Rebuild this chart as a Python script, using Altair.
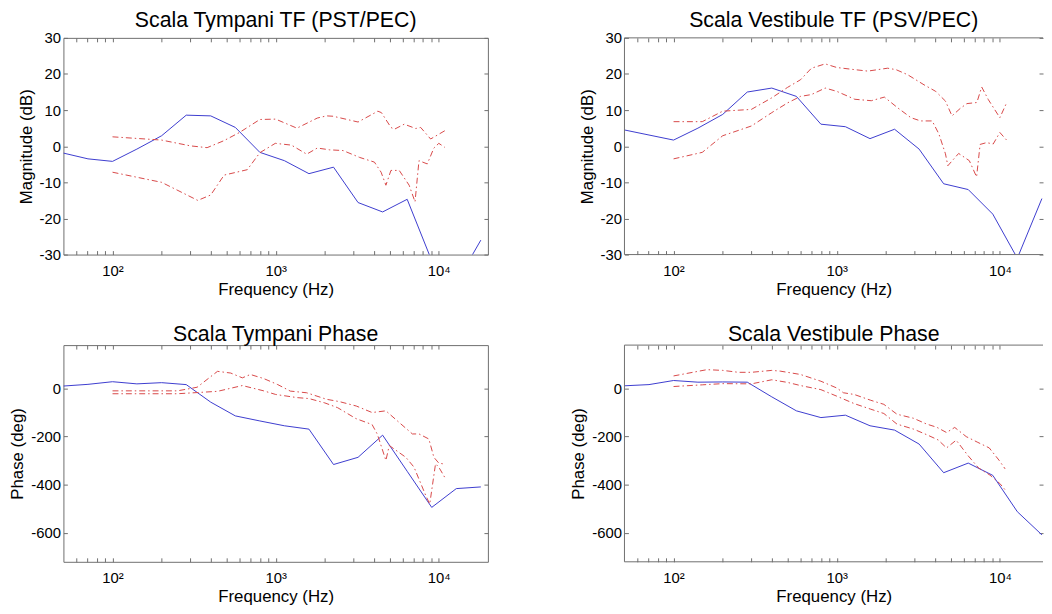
import altair as alt
import pandas as pd

FONT = "Liberation Sans"
BLUE = "#3c3cce"
RED = "#d84848"
FRAME = "#6e6e6e"

# Frequencies (Hz) of the solid blue curves (half-octave spacing)
F_BLUE = [50, 70.7, 100, 141, 200, 283, 400, 566, 800, 1131, 1600, 2263, 3200, 4525, 6400, 9051, 12800, 18102]

# ---- Scala Tympani magnitude (dB)
ST_MAG_BLUE = [-1.9, -3.5, -4.2, -0.8, 2.9, 8.6, 8.4, 5.2, -1.7, -4.0, -7.6, -5.8, -15.6, -18.2, -14.7, -31.7, -37.8, -26.0]
ST_MAG_A_F = [100, 200, 300, 380, 480, 600, 800, 1000, 1350, 1800, 2050, 2250, 3200, 4230, 4450, 5090, 5340, 6140, 7220, 7740, 8910, 10900]
ST_MAG_A_V = [2.6, 1.7, 0.1, -0.4, 1.5, 3.8, 7.4, 7.5, 5.0, 7.8, 8.4, 8.3, 6.7, 9.7, 9.3, 5.2, 4.7, 6.1, 4.9, 5.2, 2.0, 4.3]
ST_MAG_B_F = [100, 200, 333, 400, 483, 670, 800, 995, 1250, 1550, 1800, 2140, 2590, 3270, 4030, 4430, 4740, 5090, 5720, 6580, 7150, 7560, 8500, 9330, 10000, 10870]
ST_MAG_B_V = [-7.2, -10.0, -15.0, -13.5, -8.0, -6.5, -1.8, 0.8, 0.3, -2.2, -0.5, -1.0, -1.2, -3.1, -4.4, -7.2, -10.8, -6.7, -6.7, -10.8, -15.4, -4.0, -4.9, -0.5, 0.8, -0.3]

# ---- Scala Vestibule magnitude (dB)
SV_MAG_BLUE = [4.5, 3.1, 1.7, 5.0, 8.8, 15.0, 16.1, 13.8, 6.1, 5.4, 2.1, 4.7, -0.8, -10.4, -12.0, -18.8, -31.0, -14.5]
SV_MAG_A_F = [100, 150, 200, 300, 400, 500, 600, 700, 850, 1000, 1290, 1550, 2050, 2310, 2720, 3430, 4040, 4640, 5090, 5730, 6280, 7230, 7740, 8500, 10000, 11000]
SV_MAG_A_V = [6.8, 6.8, 9.7, 10.2, 13.4, 16.3, 18.4, 21.6, 22.8, 21.8, 21.2, 20.8, 21.6, 21.2, 19.8, 17.0, 15.2, 12.5, 8.4, 10.5, 11.8, 12.1, 16.4, 12.9, 7.9, 12.0]
SV_MAG_B_F = [100, 150, 200, 300, 400, 500, 600, 700, 850, 1000, 1290, 1630, 1960, 2370, 2850, 3270, 3850, 4230, 4640, 4800, 5590, 6500, 7200, 7570, 8300, 9100, 10000, 11000]
SV_MAG_B_V = [-3.5, -1.7, 2.9, 5.6, 9.3, 12.0, 13.8, 14.3, 16.1, 15.2, 13.0, 12.6, 13.6, 10.6, 7.9, 7.0, 7.0, 3.4, -2.1, -5.4, -2.0, -4.0, -8.5, 0.5, 1.0, 0.6, 3.8, 1.7]

# ---- Scala Tympani phase (deg)
ST_PH_BLUE = [10, 17, 28, 19, 24, 16, -57, -114, -135, -155, -169, -316, -286, -194, -344, -494, -416, -409]
ST_PH_A_F = [100, 250, 330, 440, 530, 625, 700, 845, 1030, 1230, 1550, 2050, 2470, 3120, 3900, 4740, 5710, 6890, 7570, 8690, 9330, 10000, 11000]
ST_PH_A_V = [-10, -10, 5, 71, 64, 44, 58, 41, 16, -11, -18, -45, -55, -73, -100, -93, -141, -189, -189, -210, -286, -310, -315]
ST_PH_B_F = [100, 250, 440, 625, 845, 1000, 1350, 1600, 2000, 2400, 3100, 3900, 4200, 4740, 4970, 6280, 7050, 8300, 8800, 9550, 10000, 11000]
ST_PH_B_V = [-22, -22, -12, 12, -10, -25, -38, -42, -60, -80, -125, -150, -190, -299, -237, -286, -327, -443, -480, -313, -327, -375]

# ---- Scala Vestibule phase (deg)
SV_PH_BLUE = [11, 16, 33, 26, 27, 26, -35, -93, -121, -111, -155, -173, -231, -350, -310, -361, -512, -608]
SV_PH_A_F = [100, 160, 200, 250, 300, 400, 450, 600, 800, 1000, 1100, 1280, 1615, 1945, 2340, 2960, 3560, 4100, 4710, 5290, 6220, 7330, 8610, 9910, 10770]
SV_PH_A_V = [52, 78, 75, 67, 67, 75, 72, 58, 30, 2, -18, -25, -49, -66, -107, -124, -148, -161, -183, -162, -200, -224, -247, -299, -334]
SV_PH_B_F = [100, 150, 200, 300, 400, 500, 600, 800, 1000, 1280, 1615, 1945, 2340, 2960, 3560, 4190, 4710, 5400, 6400, 7400, 8700, 10000, 10900]
SV_PH_B_V = [8, 15, 20, 19, 36, 25, 12, -5, -32, -63, -86, -104, -148, -169, -192, -214, -247, -215, -280, -330, -360, -395, -425]

# Left column shows 50 Hz - 20 kHz; the right column is cut by the window edge,
# so it shows the same scale up to where the picture ends.
X_DOMAIN_L = [50, 20000]
X_DOMAIN_R = [50, 18390]
X_TICKS = [60, 70, 80, 90, 100, 200, 300, 400, 500, 600, 700, 800, 900,
           1000, 2000, 3000, 4000, 5000, 6000, 7000, 8000, 9000, 10000]
MAG_DOMAIN = [-30, 30]
MAG_TICKS = [-30, -20, -10, 0, 10, 20, 30]
PH_DOMAIN = [-720, 180]
PH_TICKS = [-600, -400, -200, 0]

X_LABELS = ("datum.value == 100 ? '10\u00b2' : datum.value == 1000 ? '10\u00b3' : "
            "datum.value == 10000 ? '10\u2074' : ''")

DASHDOT = [6, 3, 1.5, 3]
TICK = 4


def panel(title, ytitle, xdomain, width, ydomain, yticks,
          blue_v, a_f, a_v, b_f, b_v, open_right=False):
    xs = alt.Scale(type="log", domain=xdomain, nice=False)
    ys = alt.Scale(domain=ydomain, nice=False, zero=False)
    x_bottom = alt.Axis(orient="bottom", values=X_TICKS, labelExpr=X_LABELS,
                        offset=-TICK, tickSize=TICK, domain=False, grid=False,
                        labelPadding=9, labelFlush=False, labelOverlap=False,
                        title="Frequency (Hz)", titlePadding=3)
    x_top = alt.Axis(orient="top", values=X_TICKS, labels=False, offset=-TICK,
                     tickSize=TICK, domain=False, grid=False, title=None)
    y_left = alt.Axis(orient="left", values=yticks, labelExpr="'' + datum.value",
                      offset=-TICK, tickSize=TICK, domain=False, grid=False,
                      labelPadding=3, title=ytitle, titlePadding=4)
    y_right = alt.Axis(orient="right", values=yticks, labels=False, offset=-TICK,
                       tickSize=TICK, domain=False, grid=False, title=None)

    blue = alt.Chart(pd.DataFrame({"f": F_BLUE, "v": blue_v})).mark_line(
        color=BLUE, strokeWidth=1, clip=True).encode(
        x=alt.X("f:Q", scale=xs, axis=x_bottom),
        y=alt.Y("v:Q", scale=ys, axis=y_left))
    red_a = alt.Chart(pd.DataFrame({"f": a_f, "v": a_v})).mark_line(
        color=RED, strokeWidth=1, strokeDash=DASHDOT, clip=True).encode(
        x=alt.X("f:Q", scale=xs, axis=x_top),
        y=alt.Y("v:Q", scale=ys, axis=y_right))
    red_b = alt.Chart(pd.DataFrame({"f": b_f, "v": b_v})).mark_line(
        color=RED, strokeWidth=1, strokeDash=DASHDOT, clip=True).encode(
        x=alt.X("f:Q", scale=xs, axis=None),
        y=alt.Y("v:Q", scale=ys, axis=None))
    layers = [blue, red_a, red_b]
    props = dict(width=width, height=219,
                 title=alt.TitleParams(title, offset=-1, anchor="middle"))
    if open_right:
        # frame drawn on the left, top and bottom only (right side is off-screen)
        frame_v = alt.Chart(pd.DataFrame({"f": [xdomain[0]], "lo": [ydomain[0]], "hi": [ydomain[1]]})).mark_rule(
            color=FRAME, strokeWidth=1).encode(
            x=alt.X("f:Q", scale=xs, axis=None),
            y=alt.Y("lo:Q", scale=ys, axis=None), y2="hi:Q")
        frame_h = alt.Chart(pd.DataFrame({"f": [xdomain[0]] * 2, "f2": [xdomain[1]] * 2, "v": ydomain})).mark_rule(
            color=FRAME, strokeWidth=1).encode(
            x=alt.X("f:Q", scale=xs, axis=None), x2="f2:Q",
            y=alt.Y("v:Q", scale=ys, axis=None))
        layers += [frame_v, frame_h]
        props["view"] = alt.ViewBackground(stroke=None)
    return alt.layer(*layers).properties(**props)


p1 = panel("Scala Tympani TF (PST/PEC)", "Magnitude (dB)", X_DOMAIN_L, 429, MAG_DOMAIN, MAG_TICKS,
           ST_MAG_BLUE, ST_MAG_A_F, ST_MAG_A_V, ST_MAG_B_F, ST_MAG_B_V)
p2 = panel("Scala Vestibule TF (PSV/PEC)", "Magnitude (dB)", X_DOMAIN_R, 423, MAG_DOMAIN, MAG_TICKS,
           SV_MAG_BLUE, SV_MAG_A_F, SV_MAG_A_V, SV_MAG_B_F, SV_MAG_B_V, open_right=True)
p3 = panel("Scala Tympani Phase", "Phase (deg)", X_DOMAIN_L, 429, PH_DOMAIN, PH_TICKS,
           ST_PH_BLUE, ST_PH_A_F, ST_PH_A_V, ST_PH_B_F, ST_PH_B_V)
p4 = panel("Scala Vestibule Phase", "Phase (deg)", X_DOMAIN_R, 423, PH_DOMAIN, PH_TICKS,
           SV_PH_BLUE, SV_PH_A_F, SV_PH_A_V, SV_PH_B_F, SV_PH_B_V, open_right=True)

chart = alt.concat(p1, p2, p3, p4, columns=2,
                   spacing={"row": 25.5, "column": 81}).properties(
    padding={"left": 0, "top": -1, "right": 0, "bottom": 0},
    background="white",
).configure_view(
    stroke=FRAME, strokeWidth=1
).configure_axis(
    labelFont=FONT, titleFont=FONT, labelFontSize=15, titleFontSize=17,
    labelColor="black", titleColor="black", titleFontWeight="normal",
    tickColor=FRAME, tickWidth=1
).configure_title(
    font=FONT, fontSize=21.5, fontWeight="normal", color="black"
)

chart.save("out.html", embed_options={"renderer": "svg", "actions": False})
